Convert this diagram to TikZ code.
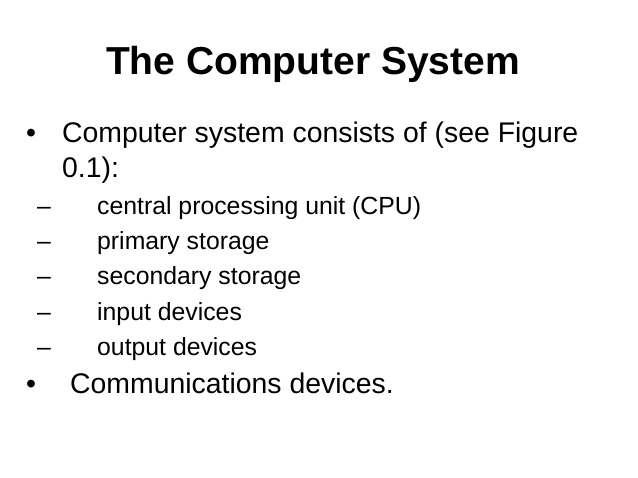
\documentclass[tikz,border=0pt]{standalone}
\usepackage{fontspec}
\setmainfont{Liberation Sans}
\begin{document}
\begin{tikzpicture}[x=1pt,y=-1pt,
  txt/.style={anchor=base west,inner sep=0pt,font=\fontsize{28.4}{32}\selectfont},
  sub/.style={anchor=base west,inner sep=0pt,font=\fontsize{24.8}{28}\selectfont}]
\useasboundingbox[fill=white] (0,0) rectangle (638,478);
\node[anchor=base,inner sep=0pt,font=\bfseries\fontsize{39}{44}\selectfont] (title) at (313,75) {The Computer System};
\node[txt] (b1) at (26,143) {•};
\node[txt] (l1) at (62,143) {Computer system consists of (see Figure};
\node[txt] (l2) at (62,178) {0.1):};
\foreach \y/\t [count=\i] in {215/central processing unit (CPU),250/primary storage,285/secondary storage,321/input devices,356/output devices}{
  \node[sub] (d\i) at (37,\y) {–};
  \node[sub] (s\i) at (97,\y) {\t};
}
\node[txt] (b2) at (26,394) {•};
\node[txt] (l3) at (70,394) {Communications devices.};
\end{tikzpicture}
\end{document}
